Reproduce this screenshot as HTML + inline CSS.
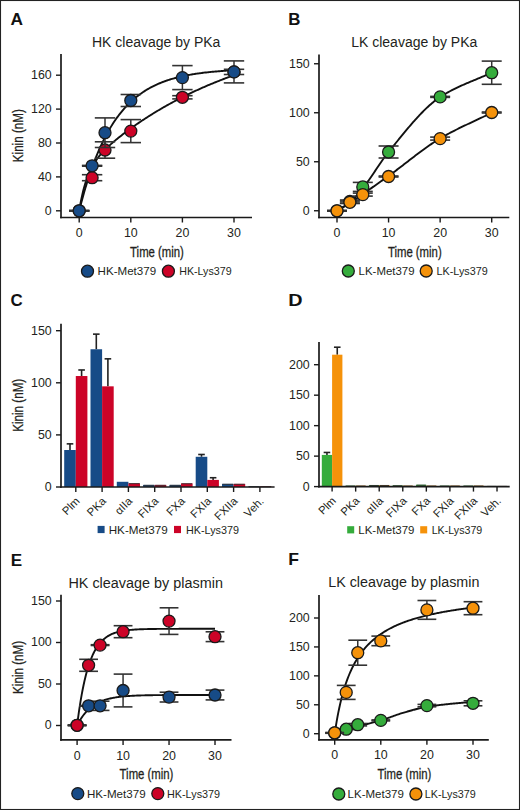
<!DOCTYPE html>
<html><head><meta charset="utf-8"><style>
html,body{margin:0;padding:0;background:#fff;}
svg{display:block;font-family:"Liberation Sans", sans-serif;}
</style></head><body>
<svg width="520" height="810" viewBox="0 0 520 810">
<rect x="0" y="0" width="520" height="810" fill="#fff"/>
<rect x="0.5" y="0.5" width="519" height="809" fill="none" stroke="#222" stroke-width="1.1"/>
<text x="10.5" y="25" font-size="17" text-anchor="start" font-weight="bold" fill="#111" textLength="12.5" lengthAdjust="spacingAndGlyphs" >A</text>
<text x="92.0" y="46.6" font-size="14" text-anchor="start" font-weight="normal" fill="#231f20" >HK cleavage by PKa</text>
<line x1="61.00" y1="54.00" x2="61.00" y2="218.30" stroke="#1a1a1a" stroke-width="1.7"/>
<line x1="60.15" y1="217.50" x2="252.00" y2="217.50" stroke="#1a1a1a" stroke-width="1.7"/>
<line x1="56.00" y1="210.80" x2="61.00" y2="210.80" stroke="#1a1a1a" stroke-width="1.4"/>
<text x="51.7" y="214.70000000000002" font-size="12.4" text-anchor="end" font-weight="normal" fill="#231f20" >0</text>
<line x1="56.00" y1="176.90" x2="61.00" y2="176.90" stroke="#1a1a1a" stroke-width="1.4"/>
<text x="51.7" y="180.8" font-size="12.4" text-anchor="end" font-weight="normal" fill="#231f20" >40</text>
<line x1="56.00" y1="143.00" x2="61.00" y2="143.00" stroke="#1a1a1a" stroke-width="1.4"/>
<text x="51.7" y="146.9" font-size="12.4" text-anchor="end" font-weight="normal" fill="#231f20" >80</text>
<line x1="56.00" y1="109.10" x2="61.00" y2="109.10" stroke="#1a1a1a" stroke-width="1.4"/>
<text x="51.7" y="113.00000000000003" font-size="12.4" text-anchor="end" font-weight="normal" fill="#231f20" >120</text>
<line x1="56.00" y1="75.20" x2="61.00" y2="75.20" stroke="#1a1a1a" stroke-width="1.4"/>
<text x="51.7" y="79.10000000000002" font-size="12.4" text-anchor="end" font-weight="normal" fill="#231f20" >160</text>
<line x1="79.20" y1="217.50" x2="79.20" y2="222.50" stroke="#1a1a1a" stroke-width="1.4"/>
<text x="79.2" y="236.5" font-size="12.4" text-anchor="middle" font-weight="normal" fill="#231f20" >0</text>
<line x1="130.80" y1="217.50" x2="130.80" y2="222.50" stroke="#1a1a1a" stroke-width="1.4"/>
<text x="130.8" y="236.5" font-size="12.4" text-anchor="middle" font-weight="normal" fill="#231f20" >10</text>
<line x1="182.40" y1="217.50" x2="182.40" y2="222.50" stroke="#1a1a1a" stroke-width="1.4"/>
<text x="182.4" y="236.5" font-size="12.4" text-anchor="middle" font-weight="normal" fill="#231f20" >20</text>
<line x1="234.00" y1="217.50" x2="234.00" y2="222.50" stroke="#1a1a1a" stroke-width="1.4"/>
<text x="234.0" y="236.5" font-size="12.4" text-anchor="middle" font-weight="normal" fill="#231f20" >30</text>
<text x="157" y="256.6" font-size="14.2" text-anchor="middle" font-weight="normal" fill="#231f20" textLength="53.8" lengthAdjust="spacingAndGlyphs" stroke="#231f20" stroke-width="0.3">Time (min)</text>
<text x="0" y="0" font-size="14.6" text-anchor="middle" fill="#231f20" stroke="#231f20" stroke-width="0.3" textLength="53" lengthAdjust="spacingAndGlyphs" transform="translate(23.3,135.7) rotate(-90)">Kinin (nM)</text>
<polyline points="79.20,210.80 80.23,206.73 81.26,202.78 82.30,198.94 83.33,195.21 84.36,191.58 85.39,188.06 86.42,184.64 87.46,181.32 88.49,178.09 89.52,174.96 90.55,171.91 91.58,168.95 92.62,166.08 93.65,163.29 94.68,160.58 95.71,157.94 96.74,155.38 97.78,152.90 98.81,150.48 99.84,148.14 100.87,145.86 101.90,143.65 102.94,141.50 103.97,139.41 105.00,137.38 106.03,135.41 107.06,133.49 108.10,131.63 109.13,129.83 110.16,128.07 111.19,126.37 112.22,124.71 113.26,123.10 114.29,121.54 115.32,120.02 116.35,118.54 117.38,117.11 118.42,115.72 119.45,114.37 120.48,113.05 121.51,111.78 122.54,110.54 123.58,109.34 124.61,108.17 125.64,107.03 126.67,105.93 127.70,104.85 128.74,103.81 129.77,102.80 130.80,101.82 131.83,100.86 132.86,99.94 133.90,99.04 134.93,98.16 135.96,97.31 136.99,96.48 138.02,95.68 139.06,94.90 140.09,94.15 141.12,93.41 142.15,92.70 143.18,92.00 144.22,91.33 145.25,90.67 146.28,90.04 147.31,89.42 148.34,88.82 149.38,88.24 150.41,87.67 151.44,87.12 152.47,86.59 153.50,86.07 154.54,85.56 155.57,85.07 156.60,84.60 157.63,84.13 158.66,83.68 159.70,83.25 160.73,82.82 161.76,82.41 162.79,82.01 163.82,81.62 164.86,81.25 165.89,80.88 166.92,80.52 167.95,80.18 168.98,79.84 170.02,79.52 171.05,79.20 172.08,78.89 173.11,78.59 174.14,78.30 175.18,78.02 176.21,77.74 177.24,77.48 178.27,77.22 179.30,76.97 180.34,76.72 181.37,76.48 182.40,76.25 183.43,76.03 184.46,75.81 185.50,75.60 186.53,75.40 187.56,75.20 188.59,75.00 189.62,74.81 190.66,74.63 191.69,74.45 192.72,74.28 193.75,74.11 194.78,73.95 195.82,73.79 196.85,73.64 197.88,73.49 198.91,73.35 199.94,73.21 200.98,73.07 202.01,72.94 203.04,72.81 204.07,72.68 205.10,72.56 206.14,72.44 207.17,72.33 208.20,72.21 209.23,72.11 210.26,72.00 211.30,71.90 212.33,71.80 213.36,71.70 214.39,71.61 215.42,71.52 216.46,71.43 217.49,71.34 218.52,71.26 219.55,71.18 220.58,71.10 221.62,71.02 222.65,70.95 223.68,70.88 224.71,70.81 225.74,70.74 226.78,70.67 227.81,70.61 228.84,70.54 229.87,70.48 230.90,70.42 231.94,70.37 232.97,70.31 234.00,70.26" fill="none" stroke="#111" stroke-width="1.9" stroke-linejoin="round"/>
<polyline points="79.20,210.80 80.23,204.77 81.26,199.40 82.30,194.61 83.33,190.31 84.36,186.44 85.39,182.96 86.42,179.81 87.46,176.94 88.49,174.33 89.52,171.93 90.55,169.73 91.58,167.69 92.62,165.80 93.65,164.04 94.68,162.39 95.71,160.84 96.74,159.37 97.78,157.98 98.81,156.66 99.84,155.40 100.87,154.18 101.90,153.02 102.94,151.89 103.97,150.80 105.00,149.75 106.03,148.72 107.06,147.71 108.10,146.73 109.13,145.78 110.16,144.84 111.19,143.91 112.22,143.01 113.26,142.12 114.29,141.24 115.32,140.37 116.35,139.51 117.38,138.67 118.42,137.83 119.45,137.01 120.48,136.19 121.51,135.38 122.54,134.58 123.58,133.79 124.61,133.00 125.64,132.22 126.67,131.45 127.70,130.68 128.74,129.92 129.77,129.17 130.80,128.42 131.83,127.68 132.86,126.95 133.90,126.22 134.93,125.49 135.96,124.77 136.99,124.06 138.02,123.35 139.06,122.65 140.09,121.95 141.12,121.25 142.15,120.57 143.18,119.88 144.22,119.20 145.25,118.53 146.28,117.86 147.31,117.20 148.34,116.54 149.38,115.88 150.41,115.23 151.44,114.59 152.47,113.95 153.50,113.31 154.54,112.68 155.57,112.05 156.60,111.43 157.63,110.81 158.66,110.20 159.70,109.59 160.73,108.98 161.76,108.38 162.79,107.78 163.82,107.19 164.86,106.60 165.89,106.01 166.92,105.43 167.95,104.85 168.98,104.28 170.02,103.71 171.05,103.15 172.08,102.59 173.11,102.03 174.14,101.48 175.18,100.93 176.21,100.38 177.24,99.84 178.27,99.30 179.30,98.77 180.34,98.24 181.37,97.71 182.40,97.19 183.43,96.67 184.46,96.15 185.50,95.64 186.53,95.13 187.56,94.63 188.59,94.13 189.62,93.63 190.66,93.13 191.69,92.64 192.72,92.16 193.75,91.67 194.78,91.19 195.82,90.71 196.85,90.24 197.88,89.77 198.91,89.30 199.94,88.84 200.98,88.38 202.01,87.92 203.04,87.46 204.07,87.01 205.10,86.56 206.14,86.12 207.17,85.68 208.20,85.24 209.23,84.80 210.26,84.37 211.30,83.94 212.33,83.51 213.36,83.09 214.39,82.67 215.42,82.25 216.46,81.83 217.49,81.42 218.52,81.01 219.55,80.61 220.58,80.20 221.62,79.80 222.65,79.40 223.68,79.01 224.71,78.61 225.74,78.23 226.78,77.84 227.81,77.45 228.84,77.07 229.87,76.69 230.90,76.32 231.94,75.94 232.97,75.57 234.00,75.20" fill="none" stroke="#111" stroke-width="1.9" stroke-linejoin="round"/>
<line x1="79.20" y1="210.50" x2="79.20" y2="211.10" stroke="#333" stroke-width="1.5"/>
<line x1="69.00" y1="210.50" x2="89.40" y2="210.50" stroke="#333" stroke-width="1.6"/>
<line x1="69.00" y1="211.10" x2="89.40" y2="211.10" stroke="#333" stroke-width="1.6"/>
<line x1="92.10" y1="174.70" x2="92.10" y2="180.70" stroke="#333" stroke-width="1.5"/>
<line x1="81.90" y1="174.70" x2="102.30" y2="174.70" stroke="#333" stroke-width="1.6"/>
<line x1="81.90" y1="180.70" x2="102.30" y2="180.70" stroke="#333" stroke-width="1.6"/>
<line x1="105.00" y1="141.80" x2="105.00" y2="158.20" stroke="#333" stroke-width="1.5"/>
<line x1="94.80" y1="141.80" x2="115.20" y2="141.80" stroke="#333" stroke-width="1.6"/>
<line x1="94.80" y1="158.20" x2="115.20" y2="158.20" stroke="#333" stroke-width="1.6"/>
<line x1="130.80" y1="119.60" x2="130.80" y2="142.60" stroke="#333" stroke-width="1.5"/>
<line x1="120.60" y1="119.60" x2="141.00" y2="119.60" stroke="#333" stroke-width="1.6"/>
<line x1="120.60" y1="142.60" x2="141.00" y2="142.60" stroke="#333" stroke-width="1.6"/>
<line x1="182.40" y1="95.70" x2="182.40" y2="98.90" stroke="#333" stroke-width="1.5"/>
<line x1="172.20" y1="95.70" x2="192.60" y2="95.70" stroke="#333" stroke-width="1.6"/>
<line x1="172.20" y1="98.90" x2="192.60" y2="98.90" stroke="#333" stroke-width="1.6"/>
<line x1="234.00" y1="69.30" x2="234.00" y2="74.50" stroke="#333" stroke-width="1.5"/>
<line x1="223.80" y1="69.30" x2="244.20" y2="69.30" stroke="#333" stroke-width="1.6"/>
<line x1="223.80" y1="74.50" x2="244.20" y2="74.50" stroke="#333" stroke-width="1.6"/>
<circle cx="79.20" cy="210.80" r="6.0" fill="#cc0327" stroke="#1a1a1a" stroke-width="1.3"/>
<circle cx="92.10" cy="177.70" r="6.0" fill="#cc0327" stroke="#1a1a1a" stroke-width="1.3"/>
<circle cx="105.00" cy="150.00" r="6.0" fill="#cc0327" stroke="#1a1a1a" stroke-width="1.3"/>
<circle cx="130.80" cy="131.10" r="6.0" fill="#cc0327" stroke="#1a1a1a" stroke-width="1.3"/>
<circle cx="182.40" cy="97.30" r="6.0" fill="#cc0327" stroke="#1a1a1a" stroke-width="1.3"/>
<circle cx="234.00" cy="71.90" r="6.0" fill="#cc0327" stroke="#1a1a1a" stroke-width="1.3"/>
<line x1="79.20" y1="210.50" x2="79.20" y2="211.10" stroke="#333" stroke-width="1.5"/>
<line x1="69.00" y1="210.50" x2="89.40" y2="210.50" stroke="#333" stroke-width="1.6"/>
<line x1="69.00" y1="211.10" x2="89.40" y2="211.10" stroke="#333" stroke-width="1.6"/>
<line x1="92.10" y1="165.40" x2="92.10" y2="166.20" stroke="#333" stroke-width="1.5"/>
<line x1="81.90" y1="165.40" x2="102.30" y2="165.40" stroke="#333" stroke-width="1.6"/>
<line x1="81.90" y1="166.20" x2="102.30" y2="166.20" stroke="#333" stroke-width="1.6"/>
<line x1="105.00" y1="117.90" x2="105.00" y2="147.50" stroke="#333" stroke-width="1.5"/>
<line x1="94.80" y1="117.90" x2="115.20" y2="117.90" stroke="#333" stroke-width="1.6"/>
<line x1="94.80" y1="147.50" x2="115.20" y2="147.50" stroke="#333" stroke-width="1.6"/>
<line x1="130.80" y1="94.50" x2="130.80" y2="106.50" stroke="#333" stroke-width="1.5"/>
<line x1="120.60" y1="94.50" x2="141.00" y2="94.50" stroke="#333" stroke-width="1.6"/>
<line x1="120.60" y1="106.50" x2="141.00" y2="106.50" stroke="#333" stroke-width="1.6"/>
<line x1="182.40" y1="65.60" x2="182.40" y2="89.60" stroke="#333" stroke-width="1.5"/>
<line x1="172.20" y1="65.60" x2="192.60" y2="65.60" stroke="#333" stroke-width="1.6"/>
<line x1="172.20" y1="89.60" x2="192.60" y2="89.60" stroke="#333" stroke-width="1.6"/>
<line x1="234.00" y1="60.90" x2="234.00" y2="82.90" stroke="#333" stroke-width="1.5"/>
<line x1="223.80" y1="60.90" x2="244.20" y2="60.90" stroke="#333" stroke-width="1.6"/>
<line x1="223.80" y1="82.90" x2="244.20" y2="82.90" stroke="#333" stroke-width="1.6"/>
<circle cx="79.20" cy="210.80" r="6.0" fill="#174b87" stroke="#1a1a1a" stroke-width="1.3"/>
<circle cx="92.10" cy="165.80" r="6.0" fill="#174b87" stroke="#1a1a1a" stroke-width="1.3"/>
<circle cx="105.00" cy="132.70" r="6.0" fill="#174b87" stroke="#1a1a1a" stroke-width="1.3"/>
<circle cx="130.80" cy="100.50" r="6.0" fill="#174b87" stroke="#1a1a1a" stroke-width="1.3"/>
<circle cx="182.40" cy="77.60" r="6.0" fill="#174b87" stroke="#1a1a1a" stroke-width="1.3"/>
<circle cx="234.00" cy="71.90" r="6.0" fill="#174b87" stroke="#1a1a1a" stroke-width="1.3"/>
<circle cx="87.50" cy="271.20" r="6.0" fill="#174b87" stroke="#1a1a1a" stroke-width="1.3"/>
<text x="97.6" y="275.2" font-size="11.3" text-anchor="start" font-weight="normal" fill="#231f20" textLength="58.5" lengthAdjust="spacingAndGlyphs" >HK-Met379</text>
<circle cx="168.40" cy="271.20" r="6.0" fill="#cc0327" stroke="#1a1a1a" stroke-width="1.3"/>
<text x="179.2" y="275.2" font-size="11.3" text-anchor="start" font-weight="normal" fill="#231f20" textLength="52.4" lengthAdjust="spacingAndGlyphs" >HK-Lys379</text>
<text x="288.3" y="25" font-size="17" text-anchor="start" font-weight="bold" fill="#111" textLength="12.2" lengthAdjust="spacingAndGlyphs" >B</text>
<text x="351.2" y="46.5" font-size="14" text-anchor="start" font-weight="normal" fill="#231f20" >LK cleavage by PKa</text>
<line x1="319.00" y1="54.50" x2="319.00" y2="218.30" stroke="#1a1a1a" stroke-width="1.7"/>
<line x1="318.15" y1="217.50" x2="509.30" y2="217.50" stroke="#1a1a1a" stroke-width="1.7"/>
<line x1="314.00" y1="210.75" x2="319.00" y2="210.75" stroke="#1a1a1a" stroke-width="1.4"/>
<text x="309.7" y="214.65" font-size="12.4" text-anchor="end" font-weight="normal" fill="#231f20" >0</text>
<line x1="314.00" y1="161.75" x2="319.00" y2="161.75" stroke="#1a1a1a" stroke-width="1.4"/>
<text x="309.7" y="165.65" font-size="12.4" text-anchor="end" font-weight="normal" fill="#231f20" >50</text>
<line x1="314.00" y1="112.75" x2="319.00" y2="112.75" stroke="#1a1a1a" stroke-width="1.4"/>
<text x="309.7" y="116.65" font-size="12.4" text-anchor="end" font-weight="normal" fill="#231f20" >100</text>
<line x1="314.00" y1="63.75" x2="319.00" y2="63.75" stroke="#1a1a1a" stroke-width="1.4"/>
<text x="309.7" y="67.65" font-size="12.4" text-anchor="end" font-weight="normal" fill="#231f20" >150</text>
<line x1="337.00" y1="217.50" x2="337.00" y2="222.50" stroke="#1a1a1a" stroke-width="1.4"/>
<text x="337.0" y="236.5" font-size="12.4" text-anchor="middle" font-weight="normal" fill="#231f20" >0</text>
<line x1="388.57" y1="217.50" x2="388.57" y2="222.50" stroke="#1a1a1a" stroke-width="1.4"/>
<text x="388.57" y="236.5" font-size="12.4" text-anchor="middle" font-weight="normal" fill="#231f20" >10</text>
<line x1="440.14" y1="217.50" x2="440.14" y2="222.50" stroke="#1a1a1a" stroke-width="1.4"/>
<text x="440.14" y="236.5" font-size="12.4" text-anchor="middle" font-weight="normal" fill="#231f20" >20</text>
<line x1="491.71" y1="217.50" x2="491.71" y2="222.50" stroke="#1a1a1a" stroke-width="1.4"/>
<text x="491.71000000000004" y="236.5" font-size="12.4" text-anchor="middle" font-weight="normal" fill="#231f20" >30</text>
<text x="414.8" y="256.6" font-size="14.2" text-anchor="middle" font-weight="normal" fill="#231f20" textLength="53.8" lengthAdjust="spacingAndGlyphs" stroke="#231f20" stroke-width="0.3">Time (min)</text>
<polyline points="337.00,210.75 338.03,210.10 339.06,209.48 340.09,208.87 341.13,208.27 342.16,207.67 343.19,207.06 344.22,206.45 345.25,205.81 346.28,205.15 347.31,204.45 348.35,203.71 349.38,202.93 350.41,202.09 351.44,201.18 352.47,200.20 353.50,199.16 354.53,198.06 355.57,196.92 356.60,195.73 357.63,194.52 358.66,193.28 359.69,192.02 360.72,190.75 361.75,189.48 362.79,188.21 363.82,186.93 364.85,185.60 365.88,184.24 366.91,182.84 367.94,181.41 368.97,179.96 370.00,178.48 371.04,176.98 372.07,175.47 373.10,173.95 374.13,172.41 375.16,170.87 376.19,169.33 377.22,167.79 378.26,166.25 379.29,164.72 380.32,163.21 381.35,161.71 382.38,160.23 383.41,158.77 384.44,157.34 385.48,155.94 386.51,154.57 387.54,153.24 388.57,151.95 389.60,150.68 390.63,149.41 391.66,148.13 392.70,146.86 393.73,145.58 394.76,144.30 395.79,143.02 396.82,141.75 397.85,140.48 398.88,139.20 399.92,137.94 400.95,136.67 401.98,135.41 403.01,134.15 404.04,132.90 405.07,131.66 406.10,130.42 407.14,129.19 408.17,127.96 409.20,126.75 410.23,125.54 411.26,124.34 412.29,123.16 413.32,121.98 414.35,120.81 415.39,119.66 416.42,118.52 417.45,117.39 418.48,116.27 419.51,115.17 420.54,114.09 421.57,113.02 422.61,111.96 423.64,110.93 424.67,109.91 425.70,108.90 426.73,107.92 427.76,106.95 428.79,106.01 429.83,105.08 430.86,104.18 431.89,103.30 432.92,102.43 433.95,101.60 434.98,100.78 436.01,99.99 437.05,99.22 438.08,98.48 439.11,97.76 440.14,97.07 441.17,96.40 442.20,95.74 443.23,95.10 444.27,94.48 445.30,93.86 446.33,93.26 447.36,92.67 448.39,92.09 449.42,91.53 450.45,90.97 451.49,90.42 452.52,89.89 453.55,89.37 454.58,88.85 455.61,88.34 456.64,87.84 457.67,87.35 458.71,86.87 459.74,86.39 460.77,85.92 461.80,85.46 462.83,85.00 463.86,84.54 464.89,84.09 465.92,83.65 466.96,83.21 467.99,82.77 469.02,82.33 470.05,81.90 471.08,81.47 472.11,81.04 473.14,80.61 474.18,80.18 475.21,79.76 476.24,79.33 477.27,78.90 478.30,78.47 479.33,78.04 480.36,77.61 481.40,77.17 482.43,76.73 483.46,76.29 484.49,75.84 485.52,75.39 486.55,74.94 487.58,74.47 488.62,74.01 489.65,73.54 490.68,73.06 491.71,72.57" fill="none" stroke="#111" stroke-width="1.9" stroke-linejoin="round"/>
<polyline points="337.00,210.75 338.03,210.13 339.06,209.51 340.09,208.89 341.13,208.27 342.16,207.66 343.19,207.04 344.22,206.42 345.25,205.80 346.28,205.17 347.31,204.54 348.35,203.89 349.38,203.24 350.41,202.58 351.44,201.90 352.47,201.22 353.50,200.52 354.53,199.82 355.57,199.11 356.60,198.40 357.63,197.68 358.66,196.96 359.69,196.24 360.72,195.52 361.75,194.81 362.79,194.09 363.82,193.38 364.85,192.66 365.88,191.94 366.91,191.23 367.94,190.51 368.97,189.79 370.00,189.07 371.04,188.35 372.07,187.63 373.10,186.90 374.13,186.18 375.16,185.46 376.19,184.73 377.22,184.01 378.26,183.28 379.29,182.55 380.32,181.82 381.35,181.09 382.38,180.36 383.41,179.63 384.44,178.90 385.48,178.16 386.51,177.43 387.54,176.70 388.57,175.96 389.60,175.22 390.63,174.47 391.66,173.72 392.70,172.96 393.73,172.20 394.76,171.43 395.79,170.66 396.82,169.88 397.85,169.10 398.88,168.32 399.92,167.53 400.95,166.74 401.98,165.95 403.01,165.16 404.04,164.36 405.07,163.57 406.10,162.77 407.14,161.97 408.17,161.17 409.20,160.37 410.23,159.58 411.26,158.78 412.29,157.99 413.32,157.19 414.35,156.40 415.39,155.61 416.42,154.83 417.45,154.05 418.48,153.27 419.51,152.49 420.54,151.72 421.57,150.96 422.61,150.20 423.64,149.45 424.67,148.70 425.70,147.95 426.73,147.22 427.76,146.49 428.79,145.77 429.83,145.05 430.86,144.35 431.89,143.65 432.92,142.96 433.95,142.28 434.98,141.62 436.01,140.96 437.05,140.31 438.08,139.67 439.11,139.04 440.14,138.43 441.17,137.82 442.20,137.22 443.23,136.63 444.27,136.05 445.30,135.47 446.33,134.90 447.36,134.33 448.39,133.77 449.42,133.22 450.45,132.67 451.49,132.13 452.52,131.60 453.55,131.06 454.58,130.54 455.61,130.02 456.64,129.50 457.67,128.98 458.71,128.47 459.74,127.97 460.77,127.46 461.80,126.96 462.83,126.46 463.86,125.97 464.89,125.48 465.92,124.99 466.96,124.50 467.99,124.01 469.02,123.53 470.05,123.04 471.08,122.56 472.11,122.08 473.14,121.59 474.18,121.11 475.21,120.63 476.24,120.15 477.27,119.67 478.30,119.18 479.33,118.70 480.36,118.22 481.40,117.73 482.43,117.24 483.46,116.75 484.49,116.26 485.52,115.77 486.55,115.27 487.58,114.78 488.62,114.27 489.65,113.77 490.68,113.26 491.71,112.75" fill="none" stroke="#111" stroke-width="1.9" stroke-linejoin="round"/>
<line x1="337.00" y1="210.50" x2="337.00" y2="211.10" stroke="#333" stroke-width="1.5"/>
<line x1="327.00" y1="210.50" x2="347.00" y2="210.50" stroke="#333" stroke-width="1.6"/>
<line x1="327.00" y1="211.10" x2="347.00" y2="211.10" stroke="#333" stroke-width="1.6"/>
<line x1="349.89" y1="200.00" x2="349.89" y2="203.00" stroke="#333" stroke-width="1.5"/>
<line x1="339.89" y1="200.00" x2="359.89" y2="200.00" stroke="#333" stroke-width="1.6"/>
<line x1="339.89" y1="203.00" x2="359.89" y2="203.00" stroke="#333" stroke-width="1.6"/>
<line x1="362.79" y1="182.40" x2="362.79" y2="191.40" stroke="#333" stroke-width="1.5"/>
<line x1="352.79" y1="182.40" x2="372.79" y2="182.40" stroke="#333" stroke-width="1.6"/>
<line x1="352.79" y1="191.40" x2="372.79" y2="191.40" stroke="#333" stroke-width="1.6"/>
<line x1="388.57" y1="146.00" x2="388.57" y2="158.00" stroke="#333" stroke-width="1.5"/>
<line x1="378.57" y1="146.00" x2="398.57" y2="146.00" stroke="#333" stroke-width="1.6"/>
<line x1="378.57" y1="158.00" x2="398.57" y2="158.00" stroke="#333" stroke-width="1.6"/>
<line x1="440.14" y1="96.40" x2="440.14" y2="97.40" stroke="#333" stroke-width="1.5"/>
<line x1="430.14" y1="96.40" x2="450.14" y2="96.40" stroke="#333" stroke-width="1.6"/>
<line x1="430.14" y1="97.40" x2="450.14" y2="97.40" stroke="#333" stroke-width="1.6"/>
<line x1="491.71" y1="61.10" x2="491.71" y2="84.30" stroke="#333" stroke-width="1.5"/>
<line x1="481.71" y1="61.10" x2="501.71" y2="61.10" stroke="#333" stroke-width="1.6"/>
<line x1="481.71" y1="84.30" x2="501.71" y2="84.30" stroke="#333" stroke-width="1.6"/>
<circle cx="337.00" cy="210.80" r="6.0" fill="#35ac3c" stroke="#1a1a1a" stroke-width="1.3"/>
<circle cx="349.89" cy="201.50" r="6.0" fill="#35ac3c" stroke="#1a1a1a" stroke-width="1.3"/>
<circle cx="362.79" cy="186.90" r="6.0" fill="#35ac3c" stroke="#1a1a1a" stroke-width="1.3"/>
<circle cx="388.57" cy="152.00" r="6.0" fill="#35ac3c" stroke="#1a1a1a" stroke-width="1.3"/>
<circle cx="440.14" cy="96.90" r="6.0" fill="#35ac3c" stroke="#1a1a1a" stroke-width="1.3"/>
<circle cx="491.71" cy="72.70" r="6.0" fill="#35ac3c" stroke="#1a1a1a" stroke-width="1.3"/>
<line x1="337.00" y1="210.50" x2="337.00" y2="211.10" stroke="#333" stroke-width="1.5"/>
<line x1="327.00" y1="210.50" x2="347.00" y2="210.50" stroke="#333" stroke-width="1.6"/>
<line x1="327.00" y1="211.10" x2="347.00" y2="211.10" stroke="#333" stroke-width="1.6"/>
<line x1="349.89" y1="201.10" x2="349.89" y2="203.50" stroke="#333" stroke-width="1.5"/>
<line x1="339.89" y1="201.10" x2="359.89" y2="201.10" stroke="#333" stroke-width="1.6"/>
<line x1="339.89" y1="203.50" x2="359.89" y2="203.50" stroke="#333" stroke-width="1.6"/>
<line x1="362.79" y1="193.10" x2="362.79" y2="196.10" stroke="#333" stroke-width="1.5"/>
<line x1="352.79" y1="193.10" x2="372.79" y2="193.10" stroke="#333" stroke-width="1.6"/>
<line x1="352.79" y1="196.10" x2="372.79" y2="196.10" stroke="#333" stroke-width="1.6"/>
<line x1="388.57" y1="176.00" x2="388.57" y2="177.00" stroke="#333" stroke-width="1.5"/>
<line x1="378.57" y1="176.00" x2="398.57" y2="176.00" stroke="#333" stroke-width="1.6"/>
<line x1="378.57" y1="177.00" x2="398.57" y2="177.00" stroke="#333" stroke-width="1.6"/>
<line x1="440.14" y1="137.10" x2="440.14" y2="140.10" stroke="#333" stroke-width="1.5"/>
<line x1="430.14" y1="137.10" x2="450.14" y2="137.10" stroke="#333" stroke-width="1.6"/>
<line x1="430.14" y1="140.10" x2="450.14" y2="140.10" stroke="#333" stroke-width="1.6"/>
<line x1="491.71" y1="112.00" x2="491.71" y2="113.00" stroke="#333" stroke-width="1.5"/>
<line x1="481.71" y1="112.00" x2="501.71" y2="112.00" stroke="#333" stroke-width="1.6"/>
<line x1="481.71" y1="113.00" x2="501.71" y2="113.00" stroke="#333" stroke-width="1.6"/>
<circle cx="337.00" cy="210.80" r="6.0" fill="#f5920a" stroke="#1a1a1a" stroke-width="1.3"/>
<circle cx="349.89" cy="202.30" r="6.0" fill="#f5920a" stroke="#1a1a1a" stroke-width="1.3"/>
<circle cx="362.79" cy="194.60" r="6.0" fill="#f5920a" stroke="#1a1a1a" stroke-width="1.3"/>
<circle cx="388.57" cy="176.50" r="6.0" fill="#f5920a" stroke="#1a1a1a" stroke-width="1.3"/>
<circle cx="440.14" cy="138.60" r="6.0" fill="#f5920a" stroke="#1a1a1a" stroke-width="1.3"/>
<circle cx="491.71" cy="112.50" r="6.0" fill="#f5920a" stroke="#1a1a1a" stroke-width="1.3"/>
<circle cx="348.30" cy="271.00" r="6.0" fill="#35ac3c" stroke="#1a1a1a" stroke-width="1.3"/>
<text x="358.6" y="275" font-size="11.3" text-anchor="start" font-weight="normal" fill="#231f20" textLength="55.9" lengthAdjust="spacingAndGlyphs" >LK-Met379</text>
<circle cx="426.20" cy="271.00" r="6.0" fill="#f5920a" stroke="#1a1a1a" stroke-width="1.3"/>
<text x="436.5" y="275" font-size="11.3" text-anchor="start" font-weight="normal" fill="#231f20" textLength="51.199999999999996" lengthAdjust="spacingAndGlyphs" >LK-Lys379</text>
<text x="10.8" y="565.5" font-size="17" text-anchor="start" font-weight="bold" fill="#111" textLength="11.4" lengthAdjust="spacingAndGlyphs" >E</text>
<text x="68.4" y="587.5" font-size="14" text-anchor="start" font-weight="normal" fill="#231f20" textLength="154.5" lengthAdjust="spacingAndGlyphs" >HK cleavage by plasmin</text>
<line x1="61.00" y1="594.80" x2="61.00" y2="740.70" stroke="#1a1a1a" stroke-width="1.7"/>
<line x1="60.15" y1="739.90" x2="231.50" y2="739.90" stroke="#1a1a1a" stroke-width="1.7"/>
<line x1="56.00" y1="725.50" x2="61.00" y2="725.50" stroke="#1a1a1a" stroke-width="1.4"/>
<text x="51.7" y="729.4" font-size="12.4" text-anchor="end" font-weight="normal" fill="#231f20" >0</text>
<line x1="56.00" y1="684.00" x2="61.00" y2="684.00" stroke="#1a1a1a" stroke-width="1.4"/>
<text x="51.7" y="687.9" font-size="12.4" text-anchor="end" font-weight="normal" fill="#231f20" >50</text>
<line x1="56.00" y1="642.50" x2="61.00" y2="642.50" stroke="#1a1a1a" stroke-width="1.4"/>
<text x="51.7" y="646.4" font-size="12.4" text-anchor="end" font-weight="normal" fill="#231f20" >100</text>
<line x1="56.00" y1="601.00" x2="61.00" y2="601.00" stroke="#1a1a1a" stroke-width="1.4"/>
<text x="51.7" y="604.9" font-size="12.4" text-anchor="end" font-weight="normal" fill="#231f20" >150</text>
<line x1="77.10" y1="739.90" x2="77.10" y2="744.90" stroke="#1a1a1a" stroke-width="1.4"/>
<text x="77.1" y="759.6" font-size="12.4" text-anchor="middle" font-weight="normal" fill="#231f20" >0</text>
<line x1="123.07" y1="739.90" x2="123.07" y2="744.90" stroke="#1a1a1a" stroke-width="1.4"/>
<text x="123.07" y="759.6" font-size="12.4" text-anchor="middle" font-weight="normal" fill="#231f20" >10</text>
<line x1="169.04" y1="739.90" x2="169.04" y2="744.90" stroke="#1a1a1a" stroke-width="1.4"/>
<text x="169.04000000000002" y="759.6" font-size="12.4" text-anchor="middle" font-weight="normal" fill="#231f20" >20</text>
<line x1="215.01" y1="739.90" x2="215.01" y2="744.90" stroke="#1a1a1a" stroke-width="1.4"/>
<text x="215.01000000000002" y="759.6" font-size="12.4" text-anchor="middle" font-weight="normal" fill="#231f20" >30</text>
<text x="146.5" y="779" font-size="14.2" text-anchor="middle" font-weight="normal" fill="#231f20" textLength="53.8" lengthAdjust="spacingAndGlyphs" stroke="#231f20" stroke-width="0.3">Time (min)</text>
<text x="0" y="0" font-size="14.6" text-anchor="middle" fill="#231f20" stroke="#231f20" stroke-width="0.3" textLength="53" lengthAdjust="spacingAndGlyphs" transform="translate(23.3,667.4) rotate(-90)">Kinin (nM)</text>
<polyline points="77.10,725.50 78.02,718.33 78.94,711.70 79.86,705.56 80.78,699.87 81.70,694.60 82.62,689.73 83.54,685.21 84.46,681.03 85.37,677.16 86.29,673.58 87.21,670.26 88.13,667.19 89.05,664.34 89.97,661.71 90.89,659.27 91.81,657.01 92.73,654.92 93.65,652.99 94.57,651.19 95.49,649.53 96.41,648.00 97.33,646.58 98.25,645.26 99.17,644.04 100.09,642.91 101.00,641.87 101.92,640.90 102.84,640.00 103.76,639.17 104.68,638.40 105.60,637.69 106.52,637.03 107.44,636.42 108.36,635.86 109.28,635.34 110.20,634.85 111.12,634.40 112.04,633.99 112.96,633.60 113.88,633.25 114.80,632.92 115.71,632.61 116.63,632.33 117.55,632.07 118.47,631.83 119.39,631.60 120.31,631.40 121.23,631.21 122.15,631.03 123.07,630.86 123.99,630.71 124.91,630.57 125.83,630.44 126.75,630.32 127.67,630.21 128.59,630.10 129.51,630.01 130.43,629.92 131.34,629.83 132.26,629.76 133.18,629.69 134.10,629.62 135.02,629.56 135.94,629.51 136.86,629.45 137.78,629.41 138.70,629.36 139.62,629.32 140.54,629.28 141.46,629.25 142.38,629.21 143.30,629.18 144.22,629.16 145.14,629.13 146.05,629.11 146.97,629.08 147.89,629.06 148.81,629.04 149.73,629.03 150.65,629.01 151.57,628.99 152.49,628.98 153.41,628.97 154.33,628.96 155.25,628.94 156.17,628.93 157.09,628.92 158.01,628.92 158.93,628.91 159.85,628.90 160.77,628.89 161.68,628.89 162.60,628.88 163.52,628.87 164.44,628.87 165.36,628.86 166.28,628.86 167.20,628.86 168.12,628.85 169.04,628.85 169.96,628.85 170.88,628.84 171.80,628.84 172.72,628.84 173.64,628.83 174.56,628.83 175.48,628.83 176.40,628.83 177.31,628.83 178.23,628.83 179.15,628.82 180.07,628.82 180.99,628.82 181.91,628.82 182.83,628.82 183.75,628.82 184.67,628.82 185.59,628.82 186.51,628.82 187.43,628.81 188.35,628.81 189.27,628.81 190.19,628.81 191.11,628.81 192.02,628.81 192.94,628.81 193.86,628.81 194.78,628.81 195.70,628.81 196.62,628.81 197.54,628.81 198.46,628.81 199.38,628.81 200.30,628.81 201.22,628.81 202.14,628.81 203.06,628.81 203.98,628.81 204.90,628.81 205.82,628.81 206.74,628.81 207.65,628.81 208.57,628.81 209.49,628.81 210.41,628.81 211.33,628.81 212.25,628.81 213.17,628.81 214.09,628.81 215.01,628.81" fill="none" stroke="#111" stroke-width="1.9" stroke-linejoin="round"/>
<polyline points="77.10,725.50 78.02,723.72 78.94,722.05 79.86,720.47 80.78,718.98 81.70,717.58 82.62,716.27 83.54,715.02 84.46,713.86 85.37,712.76 86.29,711.72 87.21,710.74 88.13,709.82 89.05,708.96 89.97,708.14 90.89,707.37 91.81,706.65 92.73,705.97 93.65,705.33 94.57,704.72 95.49,704.16 96.41,703.62 97.33,703.12 98.25,702.64 99.17,702.19 100.09,701.77 101.00,701.37 101.92,701.00 102.84,700.65 103.76,700.32 104.68,700.00 105.60,699.71 106.52,699.43 107.44,699.17 108.36,698.93 109.28,698.70 110.20,698.48 111.12,698.27 112.04,698.08 112.96,697.90 113.88,697.73 114.80,697.57 115.71,697.41 116.63,697.27 117.55,697.14 118.47,697.01 119.39,696.89 120.31,696.78 121.23,696.67 122.15,696.57 123.07,696.48 123.99,696.39 124.91,696.30 125.83,696.23 126.75,696.15 127.67,696.08 128.59,696.02 129.51,695.96 130.43,695.90 131.34,695.84 132.26,695.79 133.18,695.74 134.10,695.70 135.02,695.65 135.94,695.61 136.86,695.57 137.78,695.54 138.70,695.50 139.62,695.47 140.54,695.44 141.46,695.41 142.38,695.39 143.30,695.36 144.22,695.34 145.14,695.32 146.05,695.30 146.97,695.28 147.89,695.26 148.81,695.24 149.73,695.22 150.65,695.21 151.57,695.19 152.49,695.18 153.41,695.17 154.33,695.15 155.25,695.14 156.17,695.13 157.09,695.12 158.01,695.11 158.93,695.10 159.85,695.09 160.77,695.09 161.68,695.08 162.60,695.07 163.52,695.06 164.44,695.06 165.36,695.05 166.28,695.05 167.20,695.04 168.12,695.04 169.04,695.03 169.96,695.03 170.88,695.02 171.80,695.02 172.72,695.02 173.64,695.01 174.56,695.01 175.48,695.01 176.40,695.00 177.31,695.00 178.23,695.00 179.15,695.00 180.07,694.99 180.99,694.99 181.91,694.99 182.83,694.99 183.75,694.98 184.67,694.98 185.59,694.98 186.51,694.98 187.43,694.98 188.35,694.98 189.27,694.98 190.19,694.98 191.11,694.97 192.02,694.97 192.94,694.97 193.86,694.97 194.78,694.97 195.70,694.97 196.62,694.97 197.54,694.97 198.46,694.97 199.38,694.97 200.30,694.97 201.22,694.97 202.14,694.96 203.06,694.96 203.98,694.96 204.90,694.96 205.82,694.96 206.74,694.96 207.65,694.96 208.57,694.96 209.49,694.96 210.41,694.96 211.33,694.96 212.25,694.96 213.17,694.96 214.09,694.96 215.01,694.96" fill="none" stroke="#111" stroke-width="1.9" stroke-linejoin="round"/>
<line x1="77.10" y1="725.00" x2="77.10" y2="725.60" stroke="#333" stroke-width="1.5"/>
<line x1="67.70" y1="725.00" x2="86.50" y2="725.00" stroke="#333" stroke-width="1.6"/>
<line x1="67.70" y1="725.60" x2="86.50" y2="725.60" stroke="#333" stroke-width="1.6"/>
<line x1="88.59" y1="705.40" x2="88.59" y2="706.20" stroke="#333" stroke-width="1.5"/>
<line x1="79.19" y1="705.40" x2="97.99" y2="705.40" stroke="#333" stroke-width="1.6"/>
<line x1="79.19" y1="706.20" x2="97.99" y2="706.20" stroke="#333" stroke-width="1.6"/>
<line x1="100.08" y1="701.20" x2="100.08" y2="710.40" stroke="#333" stroke-width="1.5"/>
<line x1="90.68" y1="701.20" x2="109.48" y2="701.20" stroke="#333" stroke-width="1.6"/>
<line x1="90.68" y1="710.40" x2="109.48" y2="710.40" stroke="#333" stroke-width="1.6"/>
<line x1="123.07" y1="674.10" x2="123.07" y2="706.90" stroke="#333" stroke-width="1.5"/>
<line x1="113.67" y1="674.10" x2="132.47" y2="674.10" stroke="#333" stroke-width="1.6"/>
<line x1="113.67" y1="706.90" x2="132.47" y2="706.90" stroke="#333" stroke-width="1.6"/>
<line x1="169.04" y1="692.20" x2="169.04" y2="702.00" stroke="#333" stroke-width="1.5"/>
<line x1="159.64" y1="692.20" x2="178.44" y2="692.20" stroke="#333" stroke-width="1.6"/>
<line x1="159.64" y1="702.00" x2="178.44" y2="702.00" stroke="#333" stroke-width="1.6"/>
<line x1="215.01" y1="690.10" x2="215.01" y2="699.90" stroke="#333" stroke-width="1.5"/>
<line x1="205.61" y1="690.10" x2="224.41" y2="690.10" stroke="#333" stroke-width="1.6"/>
<line x1="205.61" y1="699.90" x2="224.41" y2="699.90" stroke="#333" stroke-width="1.6"/>
<circle cx="77.10" cy="725.30" r="6.0" fill="#174b87" stroke="#1a1a1a" stroke-width="1.3"/>
<circle cx="88.59" cy="705.80" r="6.0" fill="#174b87" stroke="#1a1a1a" stroke-width="1.3"/>
<circle cx="100.08" cy="705.80" r="6.0" fill="#174b87" stroke="#1a1a1a" stroke-width="1.3"/>
<circle cx="123.07" cy="690.50" r="6.0" fill="#174b87" stroke="#1a1a1a" stroke-width="1.3"/>
<circle cx="169.04" cy="697.10" r="6.0" fill="#174b87" stroke="#1a1a1a" stroke-width="1.3"/>
<circle cx="215.01" cy="695.00" r="6.0" fill="#174b87" stroke="#1a1a1a" stroke-width="1.3"/>
<line x1="77.10" y1="725.00" x2="77.10" y2="725.60" stroke="#333" stroke-width="1.5"/>
<line x1="67.70" y1="725.00" x2="86.50" y2="725.00" stroke="#333" stroke-width="1.6"/>
<line x1="67.70" y1="725.60" x2="86.50" y2="725.60" stroke="#333" stroke-width="1.6"/>
<line x1="88.59" y1="659.30" x2="88.59" y2="671.30" stroke="#333" stroke-width="1.5"/>
<line x1="79.19" y1="659.30" x2="97.99" y2="659.30" stroke="#333" stroke-width="1.6"/>
<line x1="79.19" y1="671.30" x2="97.99" y2="671.30" stroke="#333" stroke-width="1.6"/>
<line x1="100.08" y1="644.70" x2="100.08" y2="645.50" stroke="#333" stroke-width="1.5"/>
<line x1="90.68" y1="644.70" x2="109.48" y2="644.70" stroke="#333" stroke-width="1.6"/>
<line x1="90.68" y1="645.50" x2="109.48" y2="645.50" stroke="#333" stroke-width="1.6"/>
<line x1="123.07" y1="625.70" x2="123.07" y2="637.70" stroke="#333" stroke-width="1.5"/>
<line x1="113.67" y1="625.70" x2="132.47" y2="625.70" stroke="#333" stroke-width="1.6"/>
<line x1="113.67" y1="637.70" x2="132.47" y2="637.70" stroke="#333" stroke-width="1.6"/>
<line x1="169.04" y1="607.80" x2="169.04" y2="634.40" stroke="#333" stroke-width="1.5"/>
<line x1="159.64" y1="607.80" x2="178.44" y2="607.80" stroke="#333" stroke-width="1.6"/>
<line x1="159.64" y1="634.40" x2="178.44" y2="634.40" stroke="#333" stroke-width="1.6"/>
<line x1="215.01" y1="631.80" x2="215.01" y2="641.60" stroke="#333" stroke-width="1.5"/>
<line x1="205.61" y1="631.80" x2="224.41" y2="631.80" stroke="#333" stroke-width="1.6"/>
<line x1="205.61" y1="641.60" x2="224.41" y2="641.60" stroke="#333" stroke-width="1.6"/>
<circle cx="77.10" cy="725.30" r="6.0" fill="#cc0327" stroke="#1a1a1a" stroke-width="1.3"/>
<circle cx="88.59" cy="665.30" r="6.0" fill="#cc0327" stroke="#1a1a1a" stroke-width="1.3"/>
<circle cx="100.08" cy="645.10" r="6.0" fill="#cc0327" stroke="#1a1a1a" stroke-width="1.3"/>
<circle cx="123.07" cy="631.70" r="6.0" fill="#cc0327" stroke="#1a1a1a" stroke-width="1.3"/>
<circle cx="169.04" cy="621.10" r="6.0" fill="#cc0327" stroke="#1a1a1a" stroke-width="1.3"/>
<circle cx="215.01" cy="636.70" r="6.0" fill="#cc0327" stroke="#1a1a1a" stroke-width="1.3"/>
<circle cx="77.80" cy="793.60" r="6.0" fill="#174b87" stroke="#1a1a1a" stroke-width="1.3"/>
<text x="87.0" y="797.6" font-size="11.3" text-anchor="start" font-weight="normal" fill="#231f20" textLength="58.6" lengthAdjust="spacingAndGlyphs" >HK-Met379</text>
<circle cx="157.80" cy="793.60" r="6.0" fill="#cc0327" stroke="#1a1a1a" stroke-width="1.3"/>
<text x="167.0" y="797.6" font-size="11.3" text-anchor="start" font-weight="normal" fill="#231f20" textLength="53.1" lengthAdjust="spacingAndGlyphs" >HK-Lys379</text>
<text x="288.3" y="564.5" font-size="17" text-anchor="start" font-weight="bold" fill="#111" textLength="10.7" lengthAdjust="spacingAndGlyphs" >F</text>
<text x="328.2" y="586.8" font-size="14" text-anchor="start" font-weight="normal" fill="#231f20" textLength="151.2" lengthAdjust="spacingAndGlyphs" >LK cleavage by plasmin</text>
<line x1="319.00" y1="595.00" x2="319.00" y2="740.60" stroke="#1a1a1a" stroke-width="1.7"/>
<line x1="318.15" y1="739.80" x2="488.80" y2="739.80" stroke="#1a1a1a" stroke-width="1.7"/>
<line x1="314.00" y1="733.70" x2="319.00" y2="733.70" stroke="#1a1a1a" stroke-width="1.4"/>
<text x="309.7" y="737.6" font-size="12.4" text-anchor="end" font-weight="normal" fill="#231f20" >0</text>
<line x1="314.00" y1="704.78" x2="319.00" y2="704.78" stroke="#1a1a1a" stroke-width="1.4"/>
<text x="309.7" y="708.6750000000001" font-size="12.4" text-anchor="end" font-weight="normal" fill="#231f20" >50</text>
<line x1="314.00" y1="675.85" x2="319.00" y2="675.85" stroke="#1a1a1a" stroke-width="1.4"/>
<text x="309.7" y="679.75" font-size="12.4" text-anchor="end" font-weight="normal" fill="#231f20" >100</text>
<line x1="314.00" y1="646.93" x2="319.00" y2="646.93" stroke="#1a1a1a" stroke-width="1.4"/>
<text x="309.7" y="650.825" font-size="12.4" text-anchor="end" font-weight="normal" fill="#231f20" >150</text>
<line x1="314.00" y1="618.00" x2="319.00" y2="618.00" stroke="#1a1a1a" stroke-width="1.4"/>
<text x="309.7" y="621.9" font-size="12.4" text-anchor="end" font-weight="normal" fill="#231f20" >200</text>
<line x1="334.70" y1="739.80" x2="334.70" y2="744.80" stroke="#1a1a1a" stroke-width="1.4"/>
<text x="334.7" y="759.3" font-size="12.4" text-anchor="middle" font-weight="normal" fill="#231f20" >0</text>
<line x1="380.80" y1="739.80" x2="380.80" y2="744.80" stroke="#1a1a1a" stroke-width="1.4"/>
<text x="380.8" y="759.3" font-size="12.4" text-anchor="middle" font-weight="normal" fill="#231f20" >10</text>
<line x1="426.90" y1="739.80" x2="426.90" y2="744.80" stroke="#1a1a1a" stroke-width="1.4"/>
<text x="426.9" y="759.3" font-size="12.4" text-anchor="middle" font-weight="normal" fill="#231f20" >20</text>
<line x1="473.00" y1="739.80" x2="473.00" y2="744.80" stroke="#1a1a1a" stroke-width="1.4"/>
<text x="473.0" y="759.3" font-size="12.4" text-anchor="middle" font-weight="normal" fill="#231f20" >30</text>
<text x="404.4" y="778.6" font-size="14.2" text-anchor="middle" font-weight="normal" fill="#231f20" textLength="53.8" lengthAdjust="spacingAndGlyphs" stroke="#231f20" stroke-width="0.3">Time (min)</text>
<polyline points="334.70,733.70 335.62,727.64 336.54,722.06 337.47,716.91 338.39,712.15 339.31,707.72 340.23,703.60 341.15,699.75 342.08,696.15 343.00,692.78 343.92,689.61 344.84,686.63 345.76,683.82 346.69,681.16 347.61,678.65 348.53,676.27 349.45,674.01 350.37,671.87 351.30,669.83 352.22,667.88 353.14,666.03 354.06,664.26 354.98,662.57 355.91,660.95 356.83,659.41 357.75,657.92 358.67,656.50 359.59,655.13 360.52,653.82 361.44,652.56 362.36,651.35 363.28,650.18 364.20,649.05 365.13,647.96 366.05,646.91 366.97,645.90 367.89,644.92 368.81,643.98 369.74,643.07 370.66,642.18 371.58,641.32 372.50,640.49 373.42,639.69 374.35,638.91 375.27,638.15 376.19,637.42 377.11,636.70 378.03,636.01 378.96,635.34 379.88,634.68 380.80,634.05 381.72,633.43 382.64,632.83 383.57,632.24 384.49,631.67 385.41,631.11 386.33,630.57 387.25,630.04 388.18,629.52 389.10,629.02 390.02,628.52 390.94,628.04 391.86,627.58 392.79,627.12 393.71,626.67 394.63,626.23 395.55,625.81 396.47,625.39 397.40,624.98 398.32,624.58 399.24,624.19 400.16,623.81 401.08,623.43 402.01,623.06 402.93,622.71 403.85,622.35 404.77,622.01 405.69,621.67 406.62,621.34 407.54,621.01 408.46,620.70 409.38,620.38 410.30,620.08 411.23,619.78 412.15,619.48 413.07,619.19 413.99,618.91 414.91,618.63 415.84,618.35 416.76,618.09 417.68,617.82 418.60,617.56 419.52,617.31 420.45,617.05 421.37,616.81 422.29,616.57 423.21,616.33 424.13,616.09 425.06,615.86 425.98,615.64 426.90,615.41 427.82,615.19 428.74,614.98 429.67,614.77 430.59,614.56 431.51,614.35 432.43,614.15 433.35,613.95 434.28,613.75 435.20,613.56 436.12,613.37 437.04,613.18 437.96,612.99 438.89,612.81 439.81,612.63 440.73,612.46 441.65,612.28 442.57,612.11 443.50,611.94 444.42,611.77 445.34,611.61 446.26,611.45 447.18,611.29 448.11,611.13 449.03,610.97 449.95,610.82 450.87,610.67 451.79,610.52 452.72,610.37 453.64,610.22 454.56,610.08 455.48,609.94 456.40,609.80 457.33,609.66 458.25,609.52 459.17,609.39 460.09,609.25 461.01,609.12 461.94,608.99 462.86,608.86 463.78,608.74 464.70,608.61 465.62,608.49 466.55,608.37 467.47,608.25 468.39,608.13 469.31,608.01 470.23,607.89 471.16,607.78 472.08,607.66 473.00,607.55" fill="none" stroke="#111" stroke-width="1.9" stroke-linejoin="round"/>
<polyline points="334.70,733.70 335.62,733.42 336.54,733.15 337.47,732.87 338.39,732.60 339.31,732.32 340.23,732.05 341.15,731.78 342.08,731.50 343.00,731.22 343.92,730.94 344.84,730.66 345.76,730.37 346.69,730.08 347.61,729.79 348.53,729.48 349.45,729.18 350.37,728.87 351.30,728.56 352.22,728.24 353.14,727.94 354.06,727.63 354.98,727.33 355.91,727.03 356.83,726.75 357.75,726.47 358.67,726.20 359.59,725.94 360.52,725.68 361.44,725.43 362.36,725.19 363.28,724.94 364.20,724.71 365.13,724.47 366.05,724.24 366.97,724.01 367.89,723.78 368.81,723.55 369.74,723.32 370.66,723.09 371.58,722.86 372.50,722.63 373.42,722.40 374.35,722.16 375.27,721.93 376.19,721.68 377.11,721.44 378.03,721.18 378.96,720.93 379.88,720.66 380.80,720.39 381.72,720.12 382.64,719.83 383.57,719.53 384.49,719.23 385.41,718.92 386.33,718.60 387.25,718.28 388.18,717.96 389.10,717.63 390.02,717.30 390.94,716.97 391.86,716.63 392.79,716.30 393.71,715.97 394.63,715.63 395.55,715.31 396.47,714.98 397.40,714.66 398.32,714.34 399.24,714.03 400.16,713.72 401.08,713.43 402.01,713.14 402.93,712.86 403.85,712.58 404.77,712.32 405.69,712.05 406.62,711.79 407.54,711.52 408.46,711.26 409.38,710.99 410.30,710.73 411.23,710.47 412.15,710.22 413.07,709.96 413.99,709.71 414.91,709.47 415.84,709.22 416.76,708.99 417.68,708.75 418.60,708.53 419.52,708.31 420.45,708.09 421.37,707.88 422.29,707.68 423.21,707.49 424.13,707.30 425.06,707.13 425.98,706.96 426.90,706.80 427.82,706.65 428.74,706.50 429.67,706.36 430.59,706.22 431.51,706.08 432.43,705.95 433.35,705.82 434.28,705.70 435.20,705.57 436.12,705.45 437.04,705.34 437.96,705.23 438.89,705.11 439.81,705.00 440.73,704.90 441.65,704.79 442.57,704.69 443.50,704.59 444.42,704.49 445.34,704.39 446.26,704.29 447.18,704.19 448.11,704.10 449.03,704.00 449.95,703.91 450.87,703.81 451.79,703.72 452.72,703.63 453.64,703.54 454.56,703.46 455.48,703.37 456.40,703.29 457.33,703.21 458.25,703.13 459.17,703.05 460.09,702.97 461.01,702.89 461.94,702.81 462.86,702.73 463.78,702.66 464.70,702.58 465.62,702.51 466.55,702.43 467.47,702.35 468.39,702.28 469.31,702.20 470.23,702.12 471.16,702.04 472.08,701.96 473.00,701.88" fill="none" stroke="#111" stroke-width="1.9" stroke-linejoin="round"/>
<line x1="334.70" y1="732.70" x2="334.70" y2="733.30" stroke="#333" stroke-width="1.5"/>
<line x1="325.30" y1="732.70" x2="344.10" y2="732.70" stroke="#333" stroke-width="1.6"/>
<line x1="325.30" y1="733.30" x2="344.10" y2="733.30" stroke="#333" stroke-width="1.6"/>
<line x1="346.22" y1="728.80" x2="346.22" y2="729.60" stroke="#333" stroke-width="1.5"/>
<line x1="336.82" y1="728.80" x2="355.62" y2="728.80" stroke="#333" stroke-width="1.6"/>
<line x1="336.82" y1="729.60" x2="355.62" y2="729.60" stroke="#333" stroke-width="1.6"/>
<line x1="357.75" y1="723.50" x2="357.75" y2="725.90" stroke="#333" stroke-width="1.5"/>
<line x1="348.35" y1="723.50" x2="367.15" y2="723.50" stroke="#333" stroke-width="1.6"/>
<line x1="348.35" y1="725.90" x2="367.15" y2="725.90" stroke="#333" stroke-width="1.6"/>
<line x1="380.80" y1="719.90" x2="380.80" y2="720.90" stroke="#333" stroke-width="1.5"/>
<line x1="371.40" y1="719.90" x2="390.20" y2="719.90" stroke="#333" stroke-width="1.6"/>
<line x1="371.40" y1="720.90" x2="390.20" y2="720.90" stroke="#333" stroke-width="1.6"/>
<line x1="426.90" y1="704.40" x2="426.90" y2="706.80" stroke="#333" stroke-width="1.5"/>
<line x1="417.50" y1="704.40" x2="436.30" y2="704.40" stroke="#333" stroke-width="1.6"/>
<line x1="417.50" y1="706.80" x2="436.30" y2="706.80" stroke="#333" stroke-width="1.6"/>
<line x1="473.00" y1="700.80" x2="473.00" y2="705.80" stroke="#333" stroke-width="1.5"/>
<line x1="463.60" y1="700.80" x2="482.40" y2="700.80" stroke="#333" stroke-width="1.6"/>
<line x1="463.60" y1="705.80" x2="482.40" y2="705.80" stroke="#333" stroke-width="1.6"/>
<circle cx="334.70" cy="733.00" r="6.0" fill="#35ac3c" stroke="#1a1a1a" stroke-width="1.3"/>
<circle cx="346.22" cy="729.20" r="6.0" fill="#35ac3c" stroke="#1a1a1a" stroke-width="1.3"/>
<circle cx="357.75" cy="724.70" r="6.0" fill="#35ac3c" stroke="#1a1a1a" stroke-width="1.3"/>
<circle cx="380.80" cy="720.40" r="6.0" fill="#35ac3c" stroke="#1a1a1a" stroke-width="1.3"/>
<circle cx="426.90" cy="705.60" r="6.0" fill="#35ac3c" stroke="#1a1a1a" stroke-width="1.3"/>
<circle cx="473.00" cy="703.30" r="6.0" fill="#35ac3c" stroke="#1a1a1a" stroke-width="1.3"/>
<line x1="334.70" y1="732.50" x2="334.70" y2="733.10" stroke="#333" stroke-width="1.5"/>
<line x1="325.30" y1="732.50" x2="344.10" y2="732.50" stroke="#333" stroke-width="1.6"/>
<line x1="325.30" y1="733.10" x2="344.10" y2="733.10" stroke="#333" stroke-width="1.6"/>
<line x1="346.22" y1="685.40" x2="346.22" y2="699.40" stroke="#333" stroke-width="1.5"/>
<line x1="336.82" y1="685.40" x2="355.62" y2="685.40" stroke="#333" stroke-width="1.6"/>
<line x1="336.82" y1="699.40" x2="355.62" y2="699.40" stroke="#333" stroke-width="1.6"/>
<line x1="357.75" y1="640.20" x2="357.75" y2="665.20" stroke="#333" stroke-width="1.5"/>
<line x1="348.35" y1="640.20" x2="367.15" y2="640.20" stroke="#333" stroke-width="1.6"/>
<line x1="348.35" y1="665.20" x2="367.15" y2="665.20" stroke="#333" stroke-width="1.6"/>
<line x1="380.80" y1="636.10" x2="380.80" y2="645.70" stroke="#333" stroke-width="1.5"/>
<line x1="371.40" y1="636.10" x2="390.20" y2="636.10" stroke="#333" stroke-width="1.6"/>
<line x1="371.40" y1="645.70" x2="390.20" y2="645.70" stroke="#333" stroke-width="1.6"/>
<line x1="426.90" y1="600.50" x2="426.90" y2="619.30" stroke="#333" stroke-width="1.5"/>
<line x1="417.50" y1="600.50" x2="436.30" y2="600.50" stroke="#333" stroke-width="1.6"/>
<line x1="417.50" y1="619.30" x2="436.30" y2="619.30" stroke="#333" stroke-width="1.6"/>
<line x1="473.00" y1="601.70" x2="473.00" y2="614.70" stroke="#333" stroke-width="1.5"/>
<line x1="463.60" y1="601.70" x2="482.40" y2="601.70" stroke="#333" stroke-width="1.6"/>
<line x1="463.60" y1="614.70" x2="482.40" y2="614.70" stroke="#333" stroke-width="1.6"/>
<circle cx="334.70" cy="732.80" r="6.0" fill="#f5920a" stroke="#1a1a1a" stroke-width="1.3"/>
<circle cx="346.22" cy="692.40" r="6.0" fill="#f5920a" stroke="#1a1a1a" stroke-width="1.3"/>
<circle cx="357.75" cy="652.70" r="6.0" fill="#f5920a" stroke="#1a1a1a" stroke-width="1.3"/>
<circle cx="380.80" cy="640.90" r="6.0" fill="#f5920a" stroke="#1a1a1a" stroke-width="1.3"/>
<circle cx="426.90" cy="609.90" r="6.0" fill="#f5920a" stroke="#1a1a1a" stroke-width="1.3"/>
<circle cx="473.00" cy="608.20" r="6.0" fill="#f5920a" stroke="#1a1a1a" stroke-width="1.3"/>
<circle cx="338.80" cy="794.00" r="6.0" fill="#35ac3c" stroke="#1a1a1a" stroke-width="1.3"/>
<text x="347.6" y="798" font-size="11.3" text-anchor="start" font-weight="normal" fill="#231f20" textLength="56.3" lengthAdjust="spacingAndGlyphs" >LK-Met379</text>
<circle cx="415.90" cy="794.00" r="6.0" fill="#f5920a" stroke="#1a1a1a" stroke-width="1.3"/>
<text x="424.8" y="798" font-size="11.3" text-anchor="start" font-weight="normal" fill="#231f20" textLength="51.0" lengthAdjust="spacingAndGlyphs" >LK-Lys379</text>
<text x="10.5" y="306.3" font-size="17" text-anchor="start" font-weight="bold" fill="#111" textLength="12.2" lengthAdjust="spacingAndGlyphs" >C</text>
<line x1="70.00" y1="443.86" x2="70.00" y2="450.01" stroke="#222" stroke-width="1.6"/>
<line x1="66.70" y1="443.86" x2="73.30" y2="443.86" stroke="#222" stroke-width="1.6"/>
<rect x="64.20" y="450.01" width="11.60" height="36.99" fill="#174b87"/>
<line x1="81.60" y1="369.98" x2="81.60" y2="376.03" stroke="#222" stroke-width="1.6"/>
<line x1="78.30" y1="369.98" x2="84.90" y2="369.98" stroke="#222" stroke-width="1.6"/>
<rect x="75.80" y="376.03" width="11.60" height="110.97" fill="#cc0327"/>
<line x1="96.30" y1="334.14" x2="96.30" y2="349.25" stroke="#222" stroke-width="1.6"/>
<line x1="93.00" y1="334.14" x2="99.60" y2="334.14" stroke="#222" stroke-width="1.6"/>
<rect x="90.50" y="349.25" width="11.60" height="137.75" fill="#174b87"/>
<line x1="107.90" y1="358.83" x2="107.90" y2="386.34" stroke="#222" stroke-width="1.6"/>
<line x1="104.60" y1="358.83" x2="111.20" y2="358.83" stroke="#222" stroke-width="1.6"/>
<rect x="102.10" y="386.34" width="11.60" height="100.66" fill="#cc0327"/>
<rect x="116.80" y="481.79" width="11.60" height="5.21" fill="#174b87"/>
<rect x="128.40" y="483.25" width="11.60" height="3.75" fill="#cc0327"/>
<line x1="128.90" y1="483.65" x2="139.50" y2="483.65" stroke="#333" stroke-width="0.9"/>
<rect x="143.10" y="484.92" width="11.60" height="2.08" fill="#174b87"/>
<line x1="143.60" y1="485.32" x2="154.20" y2="485.32" stroke="#333" stroke-width="0.9"/>
<rect x="154.70" y="484.92" width="11.60" height="2.08" fill="#cc0327"/>
<line x1="155.20" y1="485.32" x2="165.80" y2="485.32" stroke="#333" stroke-width="0.9"/>
<rect x="169.40" y="484.92" width="11.60" height="2.08" fill="#174b87"/>
<line x1="169.90" y1="485.32" x2="180.50" y2="485.32" stroke="#333" stroke-width="0.9"/>
<rect x="181.00" y="483.35" width="11.60" height="3.65" fill="#cc0327"/>
<line x1="181.50" y1="483.75" x2="192.10" y2="483.75" stroke="#333" stroke-width="0.9"/>
<line x1="201.50" y1="454.49" x2="201.50" y2="456.78" stroke="#222" stroke-width="1.6"/>
<line x1="198.20" y1="454.49" x2="204.80" y2="454.49" stroke="#222" stroke-width="1.6"/>
<rect x="195.70" y="456.78" width="11.60" height="30.22" fill="#174b87"/>
<line x1="213.10" y1="477.73" x2="213.10" y2="479.91" stroke="#222" stroke-width="1.6"/>
<line x1="209.80" y1="477.73" x2="216.40" y2="477.73" stroke="#222" stroke-width="1.6"/>
<rect x="207.30" y="479.91" width="11.60" height="7.09" fill="#cc0327"/>
<rect x="222.00" y="483.87" width="11.60" height="3.13" fill="#174b87"/>
<line x1="222.50" y1="484.27" x2="233.10" y2="484.27" stroke="#333" stroke-width="0.9"/>
<rect x="233.60" y="483.87" width="11.60" height="3.13" fill="#cc0327"/>
<line x1="234.10" y1="484.27" x2="244.70" y2="484.27" stroke="#333" stroke-width="0.9"/>
<rect x="248.30" y="486.37" width="11.60" height="0.63" fill="#174b87"/>
<line x1="248.80" y1="486.77" x2="259.40" y2="486.77" stroke="#333" stroke-width="0.9"/>
<rect x="259.90" y="486.37" width="11.60" height="0.63" fill="#cc0327"/>
<line x1="260.40" y1="486.77" x2="271.00" y2="486.77" stroke="#333" stroke-width="0.9"/>
<line x1="61.00" y1="323.75" x2="61.00" y2="487.85" stroke="#1a1a1a" stroke-width="1.7"/>
<line x1="60.15" y1="487.00" x2="274.60" y2="487.00" stroke="#1a1a1a" stroke-width="1.7"/>
<line x1="56.00" y1="487.00" x2="61.00" y2="487.00" stroke="#1a1a1a" stroke-width="1.4"/>
<text x="51.7" y="490.9" font-size="12.4" text-anchor="end" font-weight="normal" fill="#231f20" >0</text>
<line x1="56.00" y1="434.90" x2="61.00" y2="434.90" stroke="#1a1a1a" stroke-width="1.4"/>
<text x="51.7" y="438.79999999999995" font-size="12.4" text-anchor="end" font-weight="normal" fill="#231f20" >50</text>
<line x1="56.00" y1="382.80" x2="61.00" y2="382.80" stroke="#1a1a1a" stroke-width="1.4"/>
<text x="51.7" y="386.7" font-size="12.4" text-anchor="end" font-weight="normal" fill="#231f20" >100</text>
<line x1="56.00" y1="330.70" x2="61.00" y2="330.70" stroke="#1a1a1a" stroke-width="1.4"/>
<text x="51.7" y="334.59999999999997" font-size="12.4" text-anchor="end" font-weight="normal" fill="#231f20" >150</text>
<line x1="75.80" y1="487.00" x2="75.80" y2="492.00" stroke="#1a1a1a" stroke-width="1.4"/>
<text x="0" y="0" font-size="11.3" text-anchor="end" fill="#231f20" transform="translate(80.40,501.90) rotate(-45)">Plm</text>
<line x1="102.10" y1="487.00" x2="102.10" y2="492.00" stroke="#1a1a1a" stroke-width="1.4"/>
<text x="0" y="0" font-size="11.3" text-anchor="end" fill="#231f20" transform="translate(106.70,501.90) rotate(-45)">PKa</text>
<line x1="128.40" y1="487.00" x2="128.40" y2="492.00" stroke="#1a1a1a" stroke-width="1.4"/>
<text x="0" y="0" font-size="11.3" text-anchor="end" fill="#231f20" transform="translate(133.00,501.90) rotate(-45)">&#945;IIa</text>
<line x1="154.70" y1="487.00" x2="154.70" y2="492.00" stroke="#1a1a1a" stroke-width="1.4"/>
<text x="0" y="0" font-size="11.3" text-anchor="end" fill="#231f20" transform="translate(159.30,501.90) rotate(-45)">FIXa</text>
<line x1="181.00" y1="487.00" x2="181.00" y2="492.00" stroke="#1a1a1a" stroke-width="1.4"/>
<text x="0" y="0" font-size="11.3" text-anchor="end" fill="#231f20" transform="translate(185.60,501.90) rotate(-45)">FXa</text>
<line x1="207.30" y1="487.00" x2="207.30" y2="492.00" stroke="#1a1a1a" stroke-width="1.4"/>
<text x="0" y="0" font-size="11.3" text-anchor="end" fill="#231f20" transform="translate(211.90,501.90) rotate(-45)">FXIa</text>
<line x1="233.60" y1="487.00" x2="233.60" y2="492.00" stroke="#1a1a1a" stroke-width="1.4"/>
<text x="0" y="0" font-size="11.3" text-anchor="end" fill="#231f20" transform="translate(238.20,501.90) rotate(-45)">FXIIa</text>
<line x1="259.90" y1="487.00" x2="259.90" y2="492.00" stroke="#1a1a1a" stroke-width="1.4"/>
<text x="0" y="0" font-size="11.3" text-anchor="end" fill="#231f20" transform="translate(264.50,501.90) rotate(-45)">Veh.</text>
<text x="0" y="0" font-size="14.6" text-anchor="middle" fill="#231f20" stroke="#231f20" stroke-width="0.3" textLength="53" lengthAdjust="spacingAndGlyphs" transform="translate(23.3,405.3) rotate(-90)">Kinin (nM)</text>
<rect x="97.60" y="525.90" width="7.00" height="7.20" fill="#174b87"/>
<text x="108.69999999999999" y="533.5" font-size="11.3" text-anchor="start" font-weight="normal" fill="#231f20" textLength="59.0" lengthAdjust="spacingAndGlyphs" >HK-Met379</text>
<rect x="174.00" y="525.90" width="7.00" height="7.20" fill="#cc0327"/>
<text x="186.0" y="533.5" font-size="11.3" text-anchor="start" font-weight="normal" fill="#231f20" textLength="53.0" lengthAdjust="spacingAndGlyphs" >HK-Lys379</text>
<text x="288.3" y="306.3" font-size="17" text-anchor="start" font-weight="bold" fill="#111" textLength="14.3" lengthAdjust="spacingAndGlyphs" >D</text>
<line x1="326.95" y1="452.47" x2="326.95" y2="454.91" stroke="#222" stroke-width="1.6"/>
<line x1="323.65" y1="452.47" x2="330.25" y2="452.47" stroke="#222" stroke-width="1.6"/>
<rect x="321.80" y="454.91" width="10.30" height="31.69" fill="#35ac3c"/>
<line x1="337.25" y1="347.21" x2="337.25" y2="354.70" stroke="#222" stroke-width="1.6"/>
<line x1="333.95" y1="347.21" x2="340.55" y2="347.21" stroke="#222" stroke-width="1.6"/>
<rect x="332.10" y="354.70" width="10.30" height="131.90" fill="#f5920a"/>
<rect x="345.36" y="485.69" width="10.30" height="0.91" fill="#35ac3c"/>
<line x1="345.86" y1="486.09" x2="355.16" y2="486.09" stroke="#333" stroke-width="0.9"/>
<rect x="355.66" y="485.69" width="10.30" height="0.91" fill="#f5920a"/>
<line x1="356.16" y1="486.09" x2="365.46" y2="486.09" stroke="#333" stroke-width="0.9"/>
<rect x="368.92" y="485.08" width="10.30" height="1.52" fill="#35ac3c"/>
<line x1="369.42" y1="485.48" x2="378.72" y2="485.48" stroke="#333" stroke-width="0.9"/>
<rect x="379.22" y="485.08" width="10.30" height="1.52" fill="#f5920a"/>
<line x1="379.72" y1="485.48" x2="389.02" y2="485.48" stroke="#333" stroke-width="0.9"/>
<rect x="392.48" y="485.38" width="10.30" height="1.22" fill="#35ac3c"/>
<line x1="392.98" y1="485.78" x2="402.28" y2="485.78" stroke="#333" stroke-width="0.9"/>
<rect x="402.78" y="485.69" width="10.30" height="0.91" fill="#f5920a"/>
<line x1="403.28" y1="486.09" x2="412.58" y2="486.09" stroke="#333" stroke-width="0.9"/>
<rect x="416.04" y="484.77" width="10.30" height="1.83" fill="#35ac3c"/>
<line x1="416.54" y1="485.17" x2="425.84" y2="485.17" stroke="#333" stroke-width="0.9"/>
<rect x="426.34" y="485.69" width="10.30" height="0.91" fill="#f5920a"/>
<line x1="426.84" y1="486.09" x2="436.14" y2="486.09" stroke="#333" stroke-width="0.9"/>
<rect x="439.60" y="485.69" width="10.30" height="0.91" fill="#35ac3c"/>
<line x1="440.10" y1="486.09" x2="449.40" y2="486.09" stroke="#333" stroke-width="0.9"/>
<rect x="449.90" y="485.69" width="10.30" height="0.91" fill="#f5920a"/>
<line x1="450.40" y1="486.09" x2="459.70" y2="486.09" stroke="#333" stroke-width="0.9"/>
<rect x="463.16" y="485.69" width="10.30" height="0.91" fill="#35ac3c"/>
<line x1="463.66" y1="486.09" x2="472.96" y2="486.09" stroke="#333" stroke-width="0.9"/>
<rect x="473.46" y="485.69" width="10.30" height="0.91" fill="#f5920a"/>
<line x1="473.96" y1="486.09" x2="483.26" y2="486.09" stroke="#333" stroke-width="0.9"/>
<rect x="486.72" y="485.99" width="10.30" height="0.61" fill="#35ac3c"/>
<line x1="487.22" y1="486.39" x2="496.52" y2="486.39" stroke="#333" stroke-width="0.9"/>
<rect x="497.02" y="485.99" width="10.30" height="0.61" fill="#f5920a"/>
<line x1="497.52" y1="486.39" x2="506.82" y2="486.39" stroke="#333" stroke-width="0.9"/>
<line x1="319.00" y1="342.00" x2="319.00" y2="487.45" stroke="#1a1a1a" stroke-width="1.7"/>
<line x1="318.15" y1="486.60" x2="509.70" y2="486.60" stroke="#1a1a1a" stroke-width="1.7"/>
<line x1="314.00" y1="486.60" x2="319.00" y2="486.60" stroke="#1a1a1a" stroke-width="1.4"/>
<text x="309.7" y="490.5" font-size="12.4" text-anchor="end" font-weight="normal" fill="#231f20" >0</text>
<line x1="314.00" y1="456.12" x2="319.00" y2="456.12" stroke="#1a1a1a" stroke-width="1.4"/>
<text x="309.7" y="460.025" font-size="12.4" text-anchor="end" font-weight="normal" fill="#231f20" >50</text>
<line x1="314.00" y1="425.65" x2="319.00" y2="425.65" stroke="#1a1a1a" stroke-width="1.4"/>
<text x="309.7" y="429.55" font-size="12.4" text-anchor="end" font-weight="normal" fill="#231f20" >100</text>
<line x1="314.00" y1="395.18" x2="319.00" y2="395.18" stroke="#1a1a1a" stroke-width="1.4"/>
<text x="309.7" y="399.075" font-size="12.4" text-anchor="end" font-weight="normal" fill="#231f20" >150</text>
<line x1="314.00" y1="364.70" x2="319.00" y2="364.70" stroke="#1a1a1a" stroke-width="1.4"/>
<text x="309.7" y="368.6" font-size="12.4" text-anchor="end" font-weight="normal" fill="#231f20" >200</text>
<line x1="332.10" y1="486.60" x2="332.10" y2="491.60" stroke="#1a1a1a" stroke-width="1.4"/>
<text x="0" y="0" font-size="11.3" text-anchor="end" fill="#231f20" transform="translate(336.70,501.50) rotate(-45)">Plm</text>
<line x1="355.66" y1="486.60" x2="355.66" y2="491.60" stroke="#1a1a1a" stroke-width="1.4"/>
<text x="0" y="0" font-size="11.3" text-anchor="end" fill="#231f20" transform="translate(360.26,501.50) rotate(-45)">PKa</text>
<line x1="379.22" y1="486.60" x2="379.22" y2="491.60" stroke="#1a1a1a" stroke-width="1.4"/>
<text x="0" y="0" font-size="11.3" text-anchor="end" fill="#231f20" transform="translate(383.82,501.50) rotate(-45)">&#945;IIa</text>
<line x1="402.78" y1="486.60" x2="402.78" y2="491.60" stroke="#1a1a1a" stroke-width="1.4"/>
<text x="0" y="0" font-size="11.3" text-anchor="end" fill="#231f20" transform="translate(407.38,501.50) rotate(-45)">FIXa</text>
<line x1="426.34" y1="486.60" x2="426.34" y2="491.60" stroke="#1a1a1a" stroke-width="1.4"/>
<text x="0" y="0" font-size="11.3" text-anchor="end" fill="#231f20" transform="translate(430.94,501.50) rotate(-45)">FXa</text>
<line x1="449.90" y1="486.60" x2="449.90" y2="491.60" stroke="#1a1a1a" stroke-width="1.4"/>
<text x="0" y="0" font-size="11.3" text-anchor="end" fill="#231f20" transform="translate(454.50,501.50) rotate(-45)">FXIa</text>
<line x1="473.46" y1="486.60" x2="473.46" y2="491.60" stroke="#1a1a1a" stroke-width="1.4"/>
<text x="0" y="0" font-size="11.3" text-anchor="end" fill="#231f20" transform="translate(478.06,501.50) rotate(-45)">FXIIa</text>
<line x1="497.02" y1="486.60" x2="497.02" y2="491.60" stroke="#1a1a1a" stroke-width="1.4"/>
<text x="0" y="0" font-size="11.3" text-anchor="end" fill="#231f20" transform="translate(501.62,501.50) rotate(-45)">Veh.</text>
<rect x="347.20" y="526.20" width="7.00" height="7.20" fill="#35ac3c"/>
<text x="358.3" y="533.8" font-size="11.3" text-anchor="start" font-weight="normal" fill="#231f20" textLength="56.199999999999996" lengthAdjust="spacingAndGlyphs" >LK-Met379</text>
<rect x="420.20" y="526.20" width="7.00" height="7.20" fill="#f5920a"/>
<text x="431.70000000000005" y="533.8" font-size="11.3" text-anchor="start" font-weight="normal" fill="#231f20" textLength="50.6" lengthAdjust="spacingAndGlyphs" >LK-Lys379</text>
</svg></body></html>
